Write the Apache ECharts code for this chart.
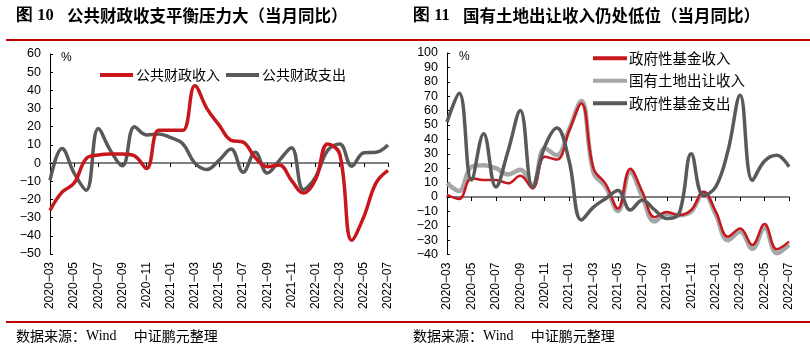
<!DOCTYPE html>
<html><head><meta charset="utf-8">
<script src="https://cdn.jsdelivr.net/npm/echarts@6/dist/echarts.min.js"></script>
<style>html,body{margin:0;padding:0;background:#fff}#c{width:810px;height:357px}</style>
</head><body><div id="c"></div>
<script>
const months = ['2020-03','2020-04','2020-05','2020-06','2020-07','2020-08','2020-09','2020-10','2020-11','2020-12',
'2021-01','2021-02','2021-03','2021-04','2021-05','2021-06','2021-07','2021-08','2021-09','2021-10','2021-11','2021-12',
'2022-01','2022-02','2022-03','2022-04','2022-05','2022-06','2022-07'];
const pubRevenue = [-26,-16,-11,2.5,4.4,5,5,4,-3,18,18,18,42.5,30,21,12.5,11.5,3,-2,-1,-9.5,-16.5,-9,10.5,5,-42.5,-29.5,-11,-4];
const pubExpend  = [-9.5,8,-5.5,-15,19,7,-1.5,20,15.5,16,14,10.6,0,-3.5,1.5,7.7,-5,6,-5.5,1.5,8.5,-14.6,-7.7,7,10.5,-1.7,5.7,6,10];
const fundRevenue = [1.4,-1.4,13,11.8,11.8,9.5,14.8,6,28,26,46,65,19.7,9,-8,19.7,3.5,-14,-10.4,-12.7,-9,3.7,-10,-27.5,-21.8,-33.3,-18.8,-36.3,-31];
const landRevenue = [9.5,4.2,21,22,20,15.7,19,7.5,33.8,29,47,66.7,17,7,-9.7,17.4,0,-17,-11.6,-12.7,-10,3,-12,-30,-24,-36,-21.6,-39,-33];
const fundExpend  = [52,72,11.8,44,7,32,60,7,35,48,25,-16,-7,-1,4.6,-9,-2,-9,-15,-11.6,30,1,7,32,70.6,11.6,25,29,21];
const leftTitleNo = '图 10', leftTitle = '公共财政收支平衡压力大（当月同比）';
const rightTitleNo = '图 11', rightTitle = '国有土地出让收入仍处低位（当月同比）';

const RED = '#C8161D', DARK = '#595959', LIGHT = '#A6A6A6';
const numFont = 'Liberation Sans';
const fmtMinus = v => String(v).replace('-', '\u2212');

function yAxis(grid, min, max) {
  return {type:'value', gridIndex:grid, min, max, interval:10,
    axisLine:{show:true, lineStyle:{color:'#000', width:1}},
    axisTick:{show:true, inside:true, length:3, lineStyle:{color:'#000'}},
    splitLine:{show:false},
    axisLabel:{color:'#000', fontSize:12.5, fontFamily:numFont, margin:9, formatter:fmtMinus}};
}
function xAxes(grid) {
  return [
    {type:'category', gridIndex:grid, data:months, boundaryGap:false,
     axisLine:{show:true, onZero:true, lineStyle:{color:'#808080', width:2}},
     axisTick:{show:true, interval:1, length:4, lineStyle:{color:'#000', width:1}},
     axisLabel:{show:false}},
    {type:'category', gridIndex:grid, data:months, boundaryGap:false, position:'bottom',
     axisLine:{show:false, onZero:false}, axisTick:{show:false},
     axisLabel:{show:true, interval:1, rotate:90, color:'#000', fontSize:12, fontFamily:numFont, margin:8,
       formatter: v => v.replace('-', '\u2212')}}
  ];
}
function line(name, data, color, width, xi, yi, z) {
  return {name, type:'line', data, xAxisIndex:xi, yAxisIndex:yi, smooth:0.4, symbol:'none', z,
    lineStyle:{color, width}, itemStyle:{color}};
}

const chart = echarts.init(document.getElementById('c'));
chart.setOption({
  animation:false,
  backgroundColor:'#fff',
  grid:[
    {left:50, top:54, width:338, height:200},
    {left:447, top:53, width:342, height:201.6}
  ],
  xAxis:[...xAxes(0), ...xAxes(1)],
  yAxis:[yAxis(0,-50,60), yAxis(1,-40,100)],
  legend:[
    {data:['公共财政收入','公共财政支出'], left:95, top:63, icon:'rect', itemWidth:33, itemHeight:4, itemGap:6,
     textStyle:{fontSize:14, color:'#000', fontFamily:'Noto Sans CJK SC', padding:[0,0,0,-2]}},
    {data:['政府性基金收入','国有土地出让收入','政府性基金支出'], orient:'vertical', left:588, top:46, icon:'rect',
     itemWidth:34, itemHeight:4, itemGap:8, textStyle:{fontSize:14.5, color:'#000', fontFamily:'Noto Sans CJK SC', padding:[0,0,0,-3]}}
  ],
  series:[
    line('公共财政收入', pubRevenue, RED, 3.5, 0, 0, 3),
    line('公共财政支出', pubExpend, DARK, 3.5, 0, 0, 2),
    line('国有土地出让收入', landRevenue, LIGHT, 4.5, 2, 1, 2),
    line('政府性基金收入', fundRevenue, RED, 2.5, 2, 1, 3),
    line('政府性基金支出', fundExpend, DARK, 3.5, 2, 1, 4)
  ],
  graphic:[
    {type:'text', left:16, top:7, style:{text:'{a|'+leftTitleNo+'}    {b|'+leftTitle+'}',
      rich:{a:{fontSize:16.5, fontWeight:'bold', fontFamily:'Liberation Serif', fill:'#000'},
            b:{fontSize:16.5, fontWeight:'bold', fontFamily:'Noto Sans CJK SC', fill:'#000'}}}},
    {type:'text', left:413, top:7, style:{text:'{a|'+rightTitleNo+'}    {b|'+rightTitle+'}',
      rich:{a:{fontSize:16.5, fontWeight:'bold', fontFamily:'Liberation Serif', fill:'#000'},
            b:{fontSize:16.5, fontWeight:'bold', fontFamily:'Noto Sans CJK SC', fill:'#000'}}}},
    {type:'line', shape:{x1:6, y1:40, x2:810, y2:40}, style:{stroke:'#C00000', lineWidth:2}},
    {type:'line', shape:{x1:6, y1:322, x2:810, y2:322}, style:{stroke:'#C00000', lineWidth:2}},
    {type:'text', left:16, top:329, style:{text:'{c|数据来源：}{w|Wind}{c|　 中证鹏元整理}',
      rich:{c:{fontSize:14, fontFamily:'Noto Sans CJK SC', fill:'#000'}, w:{fontSize:14, fontFamily:'Liberation Serif', fill:'#000'}}}},
    {type:'text', left:413, top:329, style:{text:'{c|数据来源：}{w|Wind}{c|　 中证鹏元整理}',
      rich:{c:{fontSize:14, fontFamily:'Noto Sans CJK SC', fill:'#000'}, w:{fontSize:14, fontFamily:'Liberation Serif', fill:'#000'}}}},
    {type:'text', left:61, top:52, style:{text:'%', fontSize:12, fontFamily:numFont, fill:'#000'}},
    {type:'text', left:459, top:51, style:{text:'%', fontSize:12, fontFamily:numFont, fill:'#000'}}
  ]
});
</script></body></html>
